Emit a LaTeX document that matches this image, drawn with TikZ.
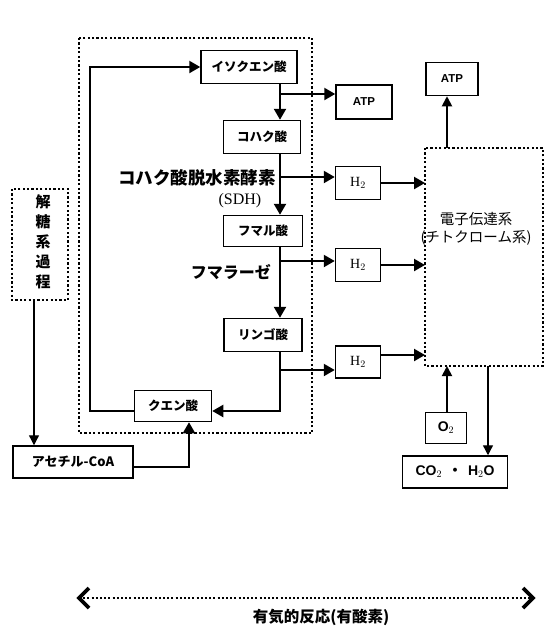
\documentclass[tikz,border=0pt]{standalone}
\usepackage{fontspec}
\setmainfont{Liberation Serif}
\newfontfamily\jp{Noto Sans CJK JP}
\newfontfamily\lsans{Liberation Sans}
\usetikzlibrary{arrows.meta}
\begin{document}
\begin{tikzpicture}[x=1pt,y=-1pt,
  box/.style={draw,line width=1.5pt,inner sep=0pt,fill=white,font=\jp\bfseries\fontsize{12.5}{12.5}\selectfont},
  hbox/.style={box,minimum width=45pt,minimum height=33pt,font=\fontsize{14}{14}\selectfont},
  atpbox/.style={box,font=\lsans\bfseries\fontsize{11.5}{11.5}\selectfont},
  zone/.style={draw,line width=2.6pt,dash pattern=on 2.2pt off 2.2pt,line cap=butt},
  flow/.style={line width=2.3pt,-{Triangle[length=11pt,width=12pt]}},
  thinflow/.style={line width=1.3pt,-{Triangle[length=10pt,width=10pt]}},
  lbl/.style={font=\jp\bfseries\fontsize{17.5}{17.5}\selectfont,inner sep=0pt},
  chev/.style={line width=3.8pt,line cap=butt,line join=miter}
]
\useasboundingbox (0,0) rectangle (548,630);

% dotted zones
\draw[zone] (79,38) rectangle (312,433);
\draw[zone] (12,189) rectangle (68,300);
\draw[zone] (425,148) rectangle (543,366);
\coordinate (etcW) at (425,257);
\coordinate (etcS) at (447,366);
\coordinate (etcN) at (447,148);
\coordinate (etcS2) at (488,366);
\coordinate (glyS) at (34,300);

% boxes
\node[box,minimum width=96pt,minimum height=33pt] (isocit) at (249,67) {イソクエン酸};
\node[atpbox,minimum width=56pt,minimum height=34pt] (atp1) at (364,102) {ATP};
\node[box,minimum width=77pt,minimum height=33pt] (koha) at (262,137) {コハク酸};
\node[hbox] (h1) at (358,183) {H$_2$};
\node[box,minimum width=79pt,minimum height=31pt] (fumaru) at (263,231) {フマル酸};
\node[hbox] (h2) at (358,265) {H$_2$};
\node[box,minimum width=78pt,minimum height=33pt] (ringo) at (263,335) {リンゴ酸};
\node[hbox,minimum height=32pt] (h3) at (358,362) {H$_2$};
\node[box,minimum width=77pt,minimum height=31pt] (kuen) at (173,406) {クエン酸};
\node[box,minimum width=120pt,minimum height=32pt,font=\jp\bfseries\fontsize{13}{13}\selectfont] (acetyl) at (73,462) {アセチル-CoA};
\node[atpbox,minimum width=52pt,minimum height=33pt] (atp2) at (452,79) {ATP};
\node[box,minimum width=41pt,minimum height=31pt,font=\lsans\bfseries\fontsize{14}{14}\selectfont] (o2) at (446,428) {O$_2$};
\node[box,minimum width=105pt,minimum height=32pt,font=\lsans\bfseries\fontsize{14}{14}\selectfont] (co2) at (455,472) {CO$_2$\hspace{6pt}{\jp ・}\hspace{6pt}H$_2$O};

% labels
\node[lbl,anchor=east] (sdh) at (276,178) {コハク酸脱水素酵素};
\node[font=\fontsize{16}{16}\selectfont,inner sep=0pt] (sdh2) at (240,201) {(SDH)};
\node[lbl,anchor=east,font=\jp\bfseries\fontsize{16}{16}\selectfont] (fum) at (271,272) {フマラーゼ};
\node[font=\jp\fontsize{14.5}{18}\selectfont,align=center,inner sep=0pt] (etctxt) at (476,229) {電子伝達系\\(チトクローム系)};
\node[font=\jp\bfseries\fontsize{15}{20}\selectfont,align=center,inner sep=0pt] (glytxt) at (43,242) {解\\糖\\系\\過\\程};
\node[font=\jp\bfseries\fontsize{15.5}{15.5}\selectfont,inner sep=0pt] (aero) at (321,617) {有気的反応(有酸素)};

% spine
\coordinate (sp) at (280,0);
\coordinate (ya1) at (0,94);
\coordinate (yh1) at (0,177);
\coordinate (yh2) at (0,261);
\coordinate (yh3) at (0,370);
\coordinate (yk) at (0,411);
\coordinate (loopx) at (90,0);
\coordinate (acx) at (189,0);
\coordinate (yac) at (0,467);
\coordinate (h3o) at ([yshift=7pt]h3.east);

\draw[flow] (isocit.south -| sp) -- (koha.north -| sp);
\draw[flow] (koha.south -| sp) -- (fumaru.north -| sp);
\draw[flow] (fumaru.south -| sp) -- (ringo.north -| sp);
\draw[flow] (ringo.south -| sp) -- (sp |- yk) -- (kuen.east |- yk);
\draw[flow] (kuen.west |- yk) -- (loopx |- yk) -- (loopx |- isocit.west) -- (isocit.west);

\draw[flow] (sp |- ya1) -- (atp1.west |- ya1);
\draw[flow] (sp |- yh1) -- (h1.west |- yh1);
\draw[flow] (sp |- yh2) -- (h2.west |- yh2);
\draw[flow] (sp |- yh3) -- (h3.west |- yh3);

\draw[flow] (h1.east) -- (etcW |- h1.east);
\draw[flow] (h2.east) -- (etcW |- h2.east);
\draw[flow] (h3o) -- (etcW |- h3o);

\draw[thinflow,line width=1.8pt] (etcN) -- (etcN |- atp2.south);
\draw[thinflow,line width=1.8pt] (o2.north -| etcS) -- (etcS);
\draw[thinflow] (etcS2) -- (etcS2 |- co2.north);
\draw[thinflow] (glyS) -- (glyS |- acetyl.north);
\draw[flow] (acetyl.east |- yac) -- (acx |- yac) -- (acx |- kuen.south);

% bottom span
\coordinate (bl) at (79,598);
\coordinate (br) at (533,598);
\draw[line width=2.4pt,dash pattern=on 2pt off 2.2pt,line cap=butt] (bl) -- (br);
\draw[chev] ([xshift=10pt,yshift=10pt]bl) -- (bl) -- ([xshift=10pt,yshift=-10pt]bl);
\draw[chev] ([xshift=-10pt,yshift=10pt]br) -- (br) -- ([xshift=-10pt,yshift=-10pt]br);
\end{tikzpicture}
\end{document}
